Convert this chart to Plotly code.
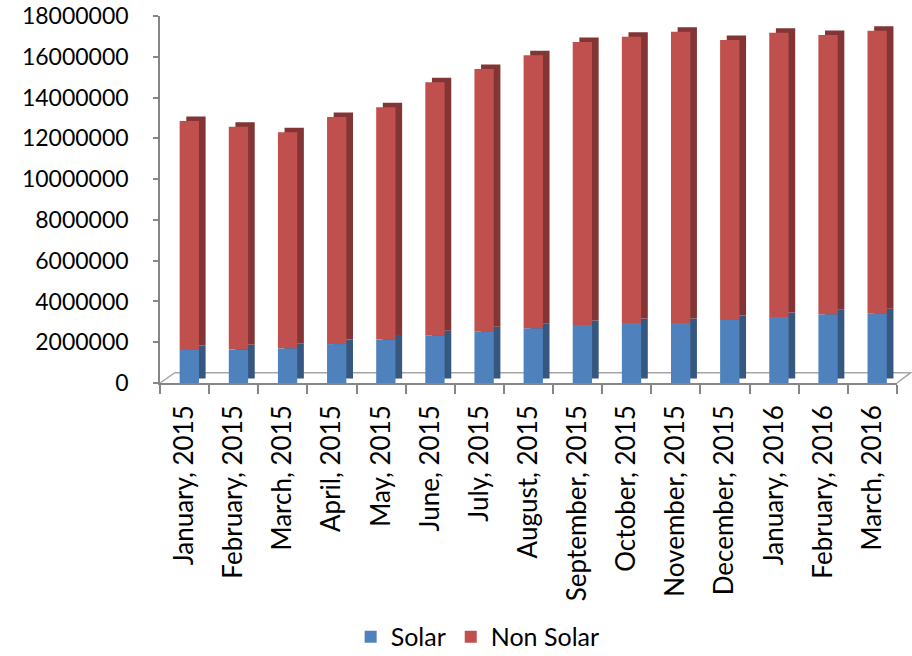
import plotly.graph_objects as go

months = ["January, 2015", "February, 2015", "March, 2015", "April, 2015", "May, 2015",
          "June, 2015", "July, 2015", "August, 2015", "September, 2015", "October, 2015",
          "November, 2015", "December, 2015", "January, 2016", "February, 2016", "March, 2016"]
solar = [1620000, 1650000, 1700000, 1910000, 2140000, 2340000, 2540000, 2680000,
         2840000, 2940000, 2940000, 3090000, 3240000, 3370000, 3420000]
total = [12850000, 12570000, 12300000, 13050000, 13520000, 14750000, 15400000, 16070000,
         16720000, 16980000, 17230000, 16820000, 17180000, 17070000, 17280000]
non_solar = [t - s for t, s in zip(total, solar)]
y_ticks = list(range(0, 18000001, 2000000))

FONT = "Lato, 'Open Sans', sans-serif"
W = 0.393      # front face width (category units)
OFF = -0.10    # front face left offset from category centre
DX = 0.135     # depth offset (category units)
DY = 220000    # depth offset (value units)

fig = go.Figure()
# depth (side/top) faces
fig.add_bar(x=months, y=solar, base=[DY] * len(solar), width=W, offset=OFF + DX,
            marker=dict(color="#36577f", line=dict(width=0)), showlegend=False, hoverinfo="skip")
fig.add_bar(x=months, y=non_solar, base=[s + DY for s in solar], width=W, offset=OFF + DX,
            marker=dict(color="#823534", line=dict(width=0)), showlegend=False, hoverinfo="skip")
# front faces
fig.add_bar(x=months, y=solar, base=[0] * len(solar), width=W, offset=OFF, name="Solar",
            marker=dict(color="#4f81bd", line=dict(width=0)))
fig.add_bar(x=months, y=non_solar, base=solar, width=W, offset=OFF, name="Non Solar",
            marker=dict(color="#c0504d", line=dict(width=0)))

# 3D floor outline (paper coordinates)
def px(x):
    return (x - 160) / 737.0
def py(y):
    return (383 - y) / 367.0
floor_col = "#a6a6a6"
fig.add_shape(type="path", xref="paper", yref="paper",
              path=f"M {px(160)},{py(383)} L {px(175)},{py(372.7)} L {px(910.7)},{py(372.7)} L {px(897)},{py(383)}",
              line=dict(color=floor_col, width=1.5), layer="below")

fig.update_layout(
    width=912, height=656,
    margin=dict(l=160, r=15, t=16, b=273, autoexpand=False),
    barmode="overlay",
    plot_bgcolor="white", paper_bgcolor="white",
    font=dict(family=FONT, size=23, color="#000000"),
    legend=dict(orientation="h", x=0.431, y=-0.692, xanchor="center", yanchor="middle",
                font=dict(size=25), tracegroupgap=0),
    showlegend=True,
)
fig.update_xaxes(type="category", showline=True, linecolor="#868686", linewidth=1.5,
                 ticks="outside", tickson="boundaries", ticklen=9, tickcolor="#868686",
                 tickwidth=1.5, tickangle=-90, showgrid=False, ticklabelstandoff=10,
                 tickfont=dict(size=26), automargin=False,
                 range=[-0.5, len(months) - 0.5])
fig.update_yaxes(range=[0, 18000000], tickvals=y_ticks, ticktext=[str(v) for v in y_ticks],
                 showline=True, linecolor="#868686", linewidth=1.5, ticks="outside",
                 ticklen=5, tickcolor="#868686", tickwidth=1.5, showgrid=False,
                 zeroline=False, ticklabelstandoff=20, automargin=False)

fig.write_html("out.html")
